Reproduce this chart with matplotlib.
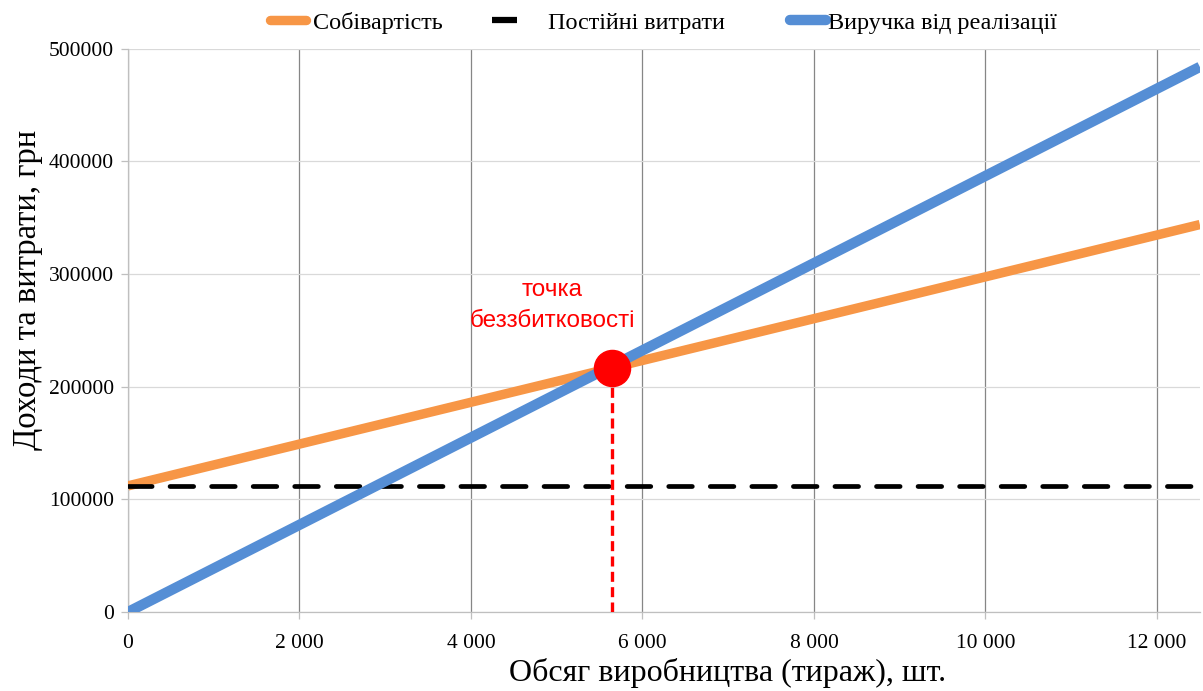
import matplotlib
matplotlib.use("Agg")
import matplotlib.pyplot as plt
from matplotlib.ticker import FuncFormatter, MultipleLocator
from matplotlib.lines import Line2D

# Data
volume = [0, 12500]
fixed_costs = [112000, 112000]
total_cost = [112000, 344000]
revenue = [0, 484000]
breakeven_x = 5640
breakeven_y = 216700

labels = ["Собівартість", "Постійні витрати", "Виручка від реалізації"]
colors = ["#F79646", "#000000", "#558ED5"]

plt.rcParams['font.family'] = ['Liberation Serif', 'DejaVu Serif']

W, H = 1203, 691
fig = plt.figure(figsize=(W / 100, H / 100), dpi=100)
ax = fig.add_axes([0.1064, 0.1143, 0.891, 0.815])

ax.plot(volume, total_cost, color=colors[0], lw=6.8, solid_capstyle='butt', zorder=3)
ax.plot(volume, fixed_costs, color=colors[1], lw=3.4, dashes=(5, 3.8), dash_capstyle='round', zorder=3)
ax.plot(volume, revenue, color=colors[2], lw=7.5, solid_capstyle='butt', zorder=4)

ax.plot([breakeven_x, breakeven_x], [0, breakeven_y], color='#FF0000', lw=2.4, dashes=(3, 1.6), zorder=5)
ax.plot([breakeven_x], [breakeven_y], 'o', color='#FF0000', ms=26, zorder=6)
ax.text(4950, 249000, "точка\nбеззбитковості", color='#FF0000', ha='center', va='bottom',
        fontsize=17.5, family=['Liberation Sans', 'DejaVu Sans'], linespacing=1.5)

ax.set_xlim(0, 12500)
ax.set_ylim(0, 500000)
ax.xaxis.set_major_locator(MultipleLocator(2000))
ax.yaxis.set_major_locator(MultipleLocator(100000))
ax.xaxis.set_major_formatter(FuncFormatter(lambda v, p: f"{int(v):,}".replace(",", " ")))
ax.yaxis.set_major_formatter(FuncFormatter(lambda v, p: f"{int(v)}"))

ax.grid(axis='x', color='#868686', lw=0.9)
ax.grid(axis='y', color='#D9D9D9', lw=0.9)
ax.set_axisbelow(True)
for s in ['top', 'right']:
    ax.spines[s].set_visible(False)
for s in ['left', 'bottom']:
    ax.spines[s].set_color('#BFBFBF')
    ax.spines[s].set_linewidth(0.9)
ax.tick_params(axis='both', colors='#BFBFBF', labelcolor='#000000', labelsize=15.5, length=5, width=0.9)
ax.tick_params(axis='x', pad=11)
ax.tick_params(axis='y', pad=5)

ax.set_xlabel("Обсяг виробництва (тираж), шт.", fontsize=23)
ax.xaxis.set_label_coords(0.559, -0.082)
ax.set_ylabel("Доходи та витрати, грн", fontsize=23.5)
ax.yaxis.set_label_coords(-0.079, 0.572)

# Legend drawn manually (positions in figure pixels)
ly = 1 - 20 / H
ty = 1 - 23 / H
leg = [
    (colors[0], 6.8, 'round', 270, 306, 313),
    (colors[1], 4.5, 'butt', 492, 517, 548),
    (colors[2], 7.5, 'round', 790, 826, 828),
]
for (c, lw, cap, x0, x1, tx), lab in zip(leg, labels):
    fig.add_artist(Line2D([x0 / W, x1 / W], [ly, ly], color=c, lw=lw, solid_capstyle=cap,
                          transform=fig.transFigure))
    fig.text(tx / W, ty, lab, ha='left', va='center', fontsize=17.4)

fig.savefig("out.png", dpi=100, facecolor='white')
